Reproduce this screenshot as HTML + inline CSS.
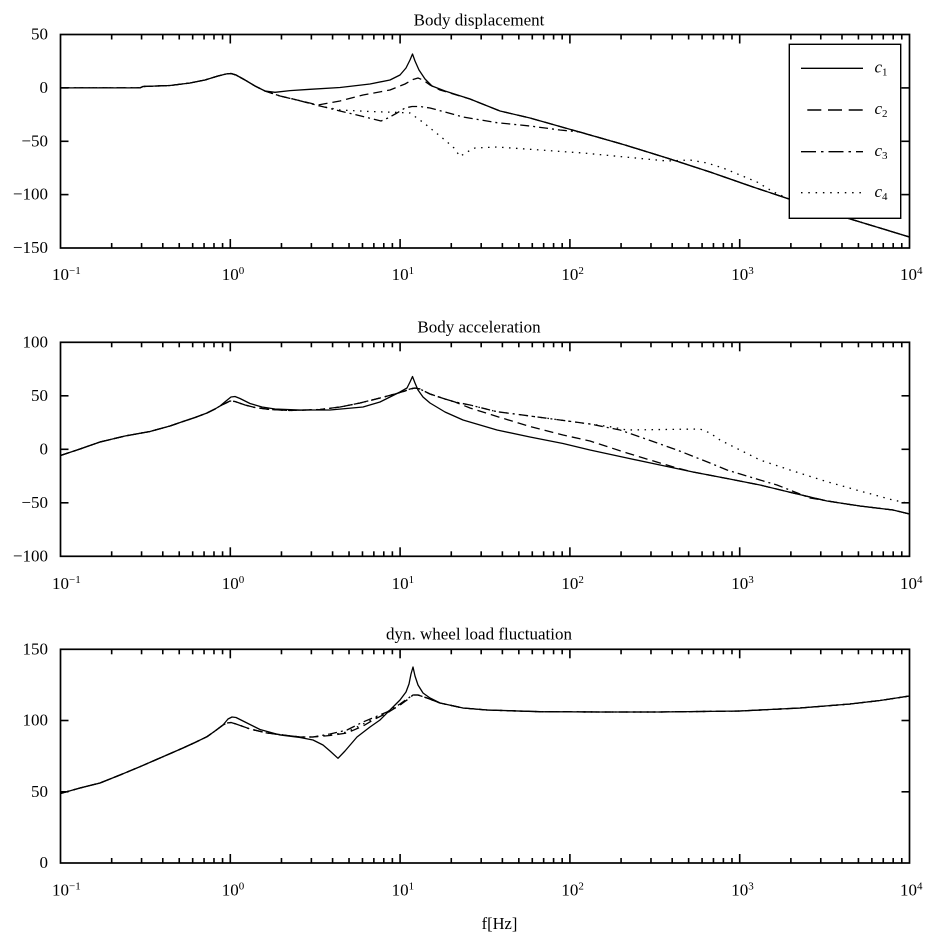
<!DOCTYPE html>
<html>
<head>
<meta charset="utf-8">
<style>
html,body{margin:0;padding:0;background:#fff;}
svg{display:block;}
text{font-family:"Liberation Serif","Times New Roman",serif;fill:#000;}
</style>
</head>
<body>
<svg width="931" height="932" viewBox="0 0 931 932" xmlns="http://www.w3.org/2000/svg" font-family="Liberation Serif, Times New Roman, serif">

<!-- ================= PLOT 1 ================= -->
<text x="479" y="25.5" font-size="17" text-anchor="middle">Body displacement</text>
<g fill="none" stroke="#000" stroke-width="1.3" stroke-linejoin="round">
  <polyline points="60.5,87.9 140,87.9 143,86.5 170,85.5 190,83 205,80 218,76 226,74 231,73.5 236,75 245,80 255,86 265,91 275,92.3 290,90.6 310,89.3 340,87.5 370,84 390,80 400,75 406,68 410,60 412.5,54 415,61 419,70 425,79 432,86 445,91 470,99 500,111 530,118 583,133 625,145 667,158 710,172 753,187 789,199 847,218 909.5,237"/>
  <polyline stroke-dasharray="9 5" points="60.5,87.9 140,87.9 143,86.5 170,85.5 190,83 205,80 218,76 226,74 231,73.5 236,75 245,80 255,86 265,91 280,96 297,100 318,105 340,101 363,95 390,90 405,84 413,79.5 418,78 423,80 430,85 440,90 450,93 470,99 500,111 530,118 583,133 625,145 667,158 710,172 753,187 789,199 847,218 909.5,237"/>
  <polyline stroke-dasharray="9 4 2 4" points="60.5,87.9 140,87.9 143,86.5 170,85.5 190,83 205,80 218,76 226,74 231,73.5 236,75 245,80 255,86 265,91 280,96 297,100 320,106 343,111.7 363,116.5 375,119.5 381,121 388,118 397,113 405,108 412,106.5 420,106.5 430,108 445,112 463,117 497,122.7 530,126 560,130 580,132 625,145 667,158 710,172 753,187 789,199 847,218 909.5,237"/>
  <polyline stroke-dasharray="1.5 5.5" points="60.5,87.9 140,87.9 143,86.5 170,85.5 190,83 205,80 218,76 226,74 231,73.5 236,75 245,80 255,86 265,91 280,96 297,100 320,106 340,110 370,111.5 400,112.5 410,113 417,118 424,123 430,128 440,136 448,142.7 454,148 460,156.5 467,152 475,148 497,147 540,150 583,153 625,157 667,161 690,160 707,163 723,168 740,175 757,182 773,191.7 789,199 847,218 909.5,237"/>
</g>
<rect x="60.5" y="34.5" width="849" height="213.5" fill="none" stroke="#000" stroke-width="1.7"/>
<g fill="#000" transform="translate(0,248)">
<rect x="110.87" y="-5" width="1.6" height="5"/><rect x="140.77" y="-5" width="1.6" height="5"/><rect x="161.98" y="-5" width="1.6" height="5"/><rect x="178.43" y="-5" width="1.6" height="5"/><rect x="191.88" y="-5" width="1.6" height="5"/><rect x="203.25" y="-5" width="1.6" height="5"/><rect x="213.19" y="-5" width="1.6" height="5"/><rect x="221.78" y="-5" width="1.6" height="5"/>
<rect x="280.67" y="-5" width="1.6" height="5"/><rect x="310.57" y="-5" width="1.6" height="5"/><rect x="331.78" y="-5" width="1.6" height="5"/><rect x="348.23" y="-5" width="1.6" height="5"/><rect x="361.68" y="-5" width="1.6" height="5"/><rect x="373.05" y="-5" width="1.6" height="5"/><rect x="382.99" y="-5" width="1.6" height="5"/><rect x="391.58" y="-5" width="1.6" height="5"/>
<rect x="450.47" y="-5" width="1.6" height="5"/><rect x="480.37" y="-5" width="1.6" height="5"/><rect x="501.58" y="-5" width="1.6" height="5"/><rect x="518.03" y="-5" width="1.6" height="5"/><rect x="531.48" y="-5" width="1.6" height="5"/><rect x="542.85" y="-5" width="1.6" height="5"/><rect x="552.79" y="-5" width="1.6" height="5"/><rect x="561.38" y="-5" width="1.6" height="5"/>
<rect x="620.27" y="-5" width="1.6" height="5"/><rect x="650.17" y="-5" width="1.6" height="5"/><rect x="671.38" y="-5" width="1.6" height="5"/><rect x="687.83" y="-5" width="1.6" height="5"/><rect x="701.28" y="-5" width="1.6" height="5"/><rect x="712.65" y="-5" width="1.6" height="5"/><rect x="722.59" y="-5" width="1.6" height="5"/><rect x="731.18" y="-5" width="1.6" height="5"/>
<rect x="790.07" y="-5" width="1.6" height="5"/><rect x="819.97" y="-5" width="1.6" height="5"/><rect x="841.18" y="-5" width="1.6" height="5"/><rect x="857.63" y="-5" width="1.6" height="5"/><rect x="871.08" y="-5" width="1.6" height="5"/><rect x="882.45" y="-5" width="1.6" height="5"/><rect x="892.39" y="-5" width="1.6" height="5"/><rect x="900.98" y="-5" width="1.6" height="5"/>
<rect x="229.5" y="-9" width="1.6" height="9"/><rect x="399.3" y="-9" width="1.6" height="9"/><rect x="569.1" y="-9" width="1.6" height="9"/><rect x="738.9" y="-9" width="1.6" height="9"/>
</g>
<g fill="#000" transform="translate(0,34.5)">
<rect x="110.87" y="0" width="1.6" height="5"/><rect x="140.77" y="0" width="1.6" height="5"/><rect x="161.98" y="0" width="1.6" height="5"/><rect x="178.43" y="0" width="1.6" height="5"/><rect x="191.88" y="0" width="1.6" height="5"/><rect x="203.25" y="0" width="1.6" height="5"/><rect x="213.19" y="0" width="1.6" height="5"/><rect x="221.78" y="0" width="1.6" height="5"/>
<rect x="280.67" y="0" width="1.6" height="5"/><rect x="310.57" y="0" width="1.6" height="5"/><rect x="331.78" y="0" width="1.6" height="5"/><rect x="348.23" y="0" width="1.6" height="5"/><rect x="361.68" y="0" width="1.6" height="5"/><rect x="373.05" y="0" width="1.6" height="5"/><rect x="382.99" y="0" width="1.6" height="5"/><rect x="391.58" y="0" width="1.6" height="5"/>
<rect x="450.47" y="0" width="1.6" height="5"/><rect x="480.37" y="0" width="1.6" height="5"/><rect x="501.58" y="0" width="1.6" height="5"/><rect x="518.03" y="0" width="1.6" height="5"/><rect x="531.48" y="0" width="1.6" height="5"/><rect x="542.85" y="0" width="1.6" height="5"/><rect x="552.79" y="0" width="1.6" height="5"/><rect x="561.38" y="0" width="1.6" height="5"/>
<rect x="620.27" y="0" width="1.6" height="5"/><rect x="650.17" y="0" width="1.6" height="5"/><rect x="671.38" y="0" width="1.6" height="5"/><rect x="687.83" y="0" width="1.6" height="5"/><rect x="701.28" y="0" width="1.6" height="5"/><rect x="712.65" y="0" width="1.6" height="5"/><rect x="722.59" y="0" width="1.6" height="5"/><rect x="731.18" y="0" width="1.6" height="5"/>
<rect x="790.07" y="0" width="1.6" height="5"/><rect x="819.97" y="0" width="1.6" height="5"/><rect x="841.18" y="0" width="1.6" height="5"/><rect x="857.63" y="0" width="1.6" height="5"/><rect x="871.08" y="0" width="1.6" height="5"/><rect x="882.45" y="0" width="1.6" height="5"/><rect x="892.39" y="0" width="1.6" height="5"/><rect x="900.98" y="0" width="1.6" height="5"/>
<rect x="229.5" y="0" width="1.6" height="9"/><rect x="399.3" y="0" width="1.6" height="9"/><rect x="569.1" y="0" width="1.6" height="9"/><rect x="738.9" y="0" width="1.6" height="9"/>
</g>
<g fill="#000">
<rect x="60.5" y="87.1" width="8" height="1.6"/><rect x="60.5" y="140.5" width="8" height="1.6"/><rect x="60.5" y="193.8" width="8" height="1.6"/>
<rect x="901.5" y="87.1" width="8" height="1.6"/><rect x="901.5" y="140.5" width="8" height="1.6"/><rect x="901.5" y="193.8" width="8" height="1.6"/>
</g>
<g font-size="17" text-anchor="end">
  <text x="48" y="39.5">50</text>
  <text x="48" y="92.9">0</text>
  <text x="48" y="146.3">−50</text>
  <text x="48" y="199.6">−100</text>
  <text x="48" y="253">−150</text>
</g>
<g font-size="17">
  <text x="52" y="280">10<tspan dy="-6" font-size="11">−1</tspan></text>
  <text x="221.8" y="280">10<tspan dy="-6" font-size="11">0</tspan></text>
  <text x="391.6" y="280">10<tspan dy="-6" font-size="11">1</tspan></text>
  <text x="561.4" y="280">10<tspan dy="-6" font-size="11">2</tspan></text>
  <text x="731.2" y="280">10<tspan dy="-6" font-size="11">3</tspan></text>
  <text x="900" y="280">10<tspan dy="-6" font-size="11">4</tspan></text>
</g>
<!-- legend -->
<rect x="789.3" y="44.3" width="111.4" height="174" fill="#fff" stroke="#000" stroke-width="1.4"/>
<g stroke="#000" stroke-width="1.4" fill="none">
  <line x1="801" y1="68.3" x2="863" y2="68.3"/>
  <line x1="807.3" y1="110" x2="863" y2="110" stroke-dasharray="14 6.7"/>
  <line x1="801" y1="151.7" x2="863" y2="151.7" stroke-dasharray="15 5 2.5 5"/>
  <line x1="801" y1="192.7" x2="863" y2="192.7" stroke-dasharray="1.5 5.8"/>
</g>
<g font-size="17" font-style="italic">
  <text x="874.5" y="72.5">c<tspan font-style="normal" font-size="11" dy="3">1</tspan></text>
  <text x="874.5" y="114.2">c<tspan font-style="normal" font-size="11" dy="3">2</tspan></text>
  <text x="874.5" y="155.9">c<tspan font-style="normal" font-size="11" dy="3">3</tspan></text>
  <text x="874.5" y="196.9">c<tspan font-style="normal" font-size="11" dy="3">4</tspan></text>
</g>

<!-- ================= PLOT 2 ================= -->
<text x="479" y="332.5" font-size="17" text-anchor="middle">Body acceleration</text>
<g fill="none" stroke="#000" stroke-width="1.3" stroke-linejoin="round">
  <polyline points="60.5,455.5 80,449 100,442 125,436 150,431.5 170,426 183,421.5 195,417.5 207,413 215,409 220,406 226,401 231,397 235,396.5 240,398.5 250,403.5 262,407 275,409 300,410 330,410 363,407 380,402 390,397 400,392 407,388 410,382 412.5,376.5 415,383 418,390 423,397 430,403 445,412 463,420 497,430 530,437 563,443.5 590,450 627,458 660,465 693,472 727,478.5 760,485 793,493 827,501 860,506 893,510 909.5,514"/>
  <polyline stroke-dasharray="9 5" points="60.5,455.5 80,449 100,442 125,436 150,431.5 170,426 183,421.5 195,417.5 207,413 215,409 220,406 226,403 230,401 235,401.5 245,405 255,407.5 270,409.5 290,410.5 320,409.5 340,407 360,403 380,398 395,394 405,391 410,389 415,388 420,389 430,394 445,399 455,402 470,408 497,416.5 530,426.5 563,435 590,441 627,453 660,463 677,468 693,472 727,478.5 760,485 793,493 827,501 860,506 893,510 909.5,514"/>
  <polyline stroke-dasharray="9 4 2 4" points="60.5,455.5 80,449 100,442 125,436 150,431.5 170,426 183,421.5 195,417.5 207,413 215,409 220,406 226,403 230,401 235,401.5 245,405 255,407.5 270,409.5 290,410.5 320,409.5 340,407 360,403 380,398 395,394 405,391 410,389 415,388 420,389 430,394 445,399 455,402 470,405 497,411.7 530,416 560,420 590,424 620,430 643,438 677,450 710,463 727,470 760,480 777,485 810,498 843,503.5 860,506 893,510 909.5,514"/>
  <polyline stroke-dasharray="1.5 5.5" points="60.5,455.5 80,449 100,442 125,436 150,431.5 170,426 183,421.5 195,417.5 207,413 215,409 220,406 226,403 230,401 235,401.5 245,405 255,407.5 270,409.5 290,410.5 320,409.5 340,407 360,403 380,398 395,394 405,391 410,389 415,388 420,389 430,394 445,399 455,402 470,405 497,411.7 530,416 560,420 610,426.7 627,430 700,429 710,433 720,440 740,450 760,460 793,471 827,481.7 860,491 893,500 909.5,503.5"/>
</g>
<rect x="60.5" y="342.3" width="849" height="214" fill="none" stroke="#000" stroke-width="1.7"/>
<g fill="#000" transform="translate(0,556.3)">
<rect x="110.87" y="-5" width="1.6" height="5"/><rect x="140.77" y="-5" width="1.6" height="5"/><rect x="161.98" y="-5" width="1.6" height="5"/><rect x="178.43" y="-5" width="1.6" height="5"/><rect x="191.88" y="-5" width="1.6" height="5"/><rect x="203.25" y="-5" width="1.6" height="5"/><rect x="213.19" y="-5" width="1.6" height="5"/><rect x="221.78" y="-5" width="1.6" height="5"/>
<rect x="280.67" y="-5" width="1.6" height="5"/><rect x="310.57" y="-5" width="1.6" height="5"/><rect x="331.78" y="-5" width="1.6" height="5"/><rect x="348.23" y="-5" width="1.6" height="5"/><rect x="361.68" y="-5" width="1.6" height="5"/><rect x="373.05" y="-5" width="1.6" height="5"/><rect x="382.99" y="-5" width="1.6" height="5"/><rect x="391.58" y="-5" width="1.6" height="5"/>
<rect x="450.47" y="-5" width="1.6" height="5"/><rect x="480.37" y="-5" width="1.6" height="5"/><rect x="501.58" y="-5" width="1.6" height="5"/><rect x="518.03" y="-5" width="1.6" height="5"/><rect x="531.48" y="-5" width="1.6" height="5"/><rect x="542.85" y="-5" width="1.6" height="5"/><rect x="552.79" y="-5" width="1.6" height="5"/><rect x="561.38" y="-5" width="1.6" height="5"/>
<rect x="620.27" y="-5" width="1.6" height="5"/><rect x="650.17" y="-5" width="1.6" height="5"/><rect x="671.38" y="-5" width="1.6" height="5"/><rect x="687.83" y="-5" width="1.6" height="5"/><rect x="701.28" y="-5" width="1.6" height="5"/><rect x="712.65" y="-5" width="1.6" height="5"/><rect x="722.59" y="-5" width="1.6" height="5"/><rect x="731.18" y="-5" width="1.6" height="5"/>
<rect x="790.07" y="-5" width="1.6" height="5"/><rect x="819.97" y="-5" width="1.6" height="5"/><rect x="841.18" y="-5" width="1.6" height="5"/><rect x="857.63" y="-5" width="1.6" height="5"/><rect x="871.08" y="-5" width="1.6" height="5"/><rect x="882.45" y="-5" width="1.6" height="5"/><rect x="892.39" y="-5" width="1.6" height="5"/><rect x="900.98" y="-5" width="1.6" height="5"/>
<rect x="229.5" y="-9" width="1.6" height="9"/><rect x="399.3" y="-9" width="1.6" height="9"/><rect x="569.1" y="-9" width="1.6" height="9"/><rect x="738.9" y="-9" width="1.6" height="9"/>
</g>
<g fill="#000" transform="translate(0,342.3)">
<rect x="110.87" y="0" width="1.6" height="5"/><rect x="140.77" y="0" width="1.6" height="5"/><rect x="161.98" y="0" width="1.6" height="5"/><rect x="178.43" y="0" width="1.6" height="5"/><rect x="191.88" y="0" width="1.6" height="5"/><rect x="203.25" y="0" width="1.6" height="5"/><rect x="213.19" y="0" width="1.6" height="5"/><rect x="221.78" y="0" width="1.6" height="5"/>
<rect x="280.67" y="0" width="1.6" height="5"/><rect x="310.57" y="0" width="1.6" height="5"/><rect x="331.78" y="0" width="1.6" height="5"/><rect x="348.23" y="0" width="1.6" height="5"/><rect x="361.68" y="0" width="1.6" height="5"/><rect x="373.05" y="0" width="1.6" height="5"/><rect x="382.99" y="0" width="1.6" height="5"/><rect x="391.58" y="0" width="1.6" height="5"/>
<rect x="450.47" y="0" width="1.6" height="5"/><rect x="480.37" y="0" width="1.6" height="5"/><rect x="501.58" y="0" width="1.6" height="5"/><rect x="518.03" y="0" width="1.6" height="5"/><rect x="531.48" y="0" width="1.6" height="5"/><rect x="542.85" y="0" width="1.6" height="5"/><rect x="552.79" y="0" width="1.6" height="5"/><rect x="561.38" y="0" width="1.6" height="5"/>
<rect x="620.27" y="0" width="1.6" height="5"/><rect x="650.17" y="0" width="1.6" height="5"/><rect x="671.38" y="0" width="1.6" height="5"/><rect x="687.83" y="0" width="1.6" height="5"/><rect x="701.28" y="0" width="1.6" height="5"/><rect x="712.65" y="0" width="1.6" height="5"/><rect x="722.59" y="0" width="1.6" height="5"/><rect x="731.18" y="0" width="1.6" height="5"/>
<rect x="790.07" y="0" width="1.6" height="5"/><rect x="819.97" y="0" width="1.6" height="5"/><rect x="841.18" y="0" width="1.6" height="5"/><rect x="857.63" y="0" width="1.6" height="5"/><rect x="871.08" y="0" width="1.6" height="5"/><rect x="882.45" y="0" width="1.6" height="5"/><rect x="892.39" y="0" width="1.6" height="5"/><rect x="900.98" y="0" width="1.6" height="5"/>
<rect x="229.5" y="0" width="1.6" height="9"/><rect x="399.3" y="0" width="1.6" height="9"/><rect x="569.1" y="0" width="1.6" height="9"/><rect x="738.9" y="0" width="1.6" height="9"/>
</g>
<g fill="#000">
<rect x="60.5" y="395" width="8" height="1.6"/><rect x="60.5" y="448.5" width="8" height="1.6"/><rect x="60.5" y="502" width="8" height="1.6"/>
<rect x="901.5" y="395" width="8" height="1.6"/><rect x="901.5" y="448.5" width="8" height="1.6"/><rect x="901.5" y="502" width="8" height="1.6"/>
</g>
<g font-size="17" text-anchor="end">
  <text x="48" y="347.3">100</text>
  <text x="48" y="400.8">50</text>
  <text x="48" y="454.3">0</text>
  <text x="48" y="507.8">−50</text>
  <text x="48" y="561.3">−100</text>
</g>
<g font-size="17">
  <text x="52" y="589">10<tspan dy="-6" font-size="11">−1</tspan></text>
  <text x="221.8" y="589">10<tspan dy="-6" font-size="11">0</tspan></text>
  <text x="391.6" y="589">10<tspan dy="-6" font-size="11">1</tspan></text>
  <text x="561.4" y="589">10<tspan dy="-6" font-size="11">2</tspan></text>
  <text x="731.2" y="589">10<tspan dy="-6" font-size="11">3</tspan></text>
  <text x="900" y="589">10<tspan dy="-6" font-size="11">4</tspan></text>
</g>

<!-- ================= PLOT 3 ================= -->
<text x="479" y="639.5" font-size="17" text-anchor="middle">dyn. wheel load fluctuation</text>
<g fill="none" stroke="#000" stroke-width="1.3" stroke-linejoin="round">
  <polyline points="60.5,793.5 80,788 100,783 120,775 140,766.7 160,758 183,748 195,742.5 207,736.7 215,731 223,725 228,719 232,717 236,717.5 245,722 260,729.5 280,735 300,737.5 313,740 323,745 330,751 338,758.3 345,751 357,737 370,727 380,720 392,708 400,700 406,692 409,684 411,674 413,667 415,676 418,685 423,693 430,698 440,703 463,708 487,710 540,711.7 600,712 660,712 740,711 800,708 850,704 880,700.5 909.5,696"/>
  <polyline stroke-dasharray="9 5" points="60.5,793.5 80,788 100,783 120,775 140,766.7 160,758 183,748 195,742.5 207,736.7 215,731 223,725 227,723 231,722.5 236,724 250,729 267,733 300,737 313,737 330,735.5 347,733 363,726 375,719 387,713 400,705 407,700 413,695 418,695 427,698 440,703 463,708 487,710 540,711.7 600,712 660,712 740,711 800,708 850,704 880,700.5 909.5,696"/>
  <polyline stroke-dasharray="9 4 2 4" points="60.5,793.5 80,788 100,783 120,775 140,766.7 160,758 183,748 195,742.5 207,736.7 215,731 223,725 227,723 231,722.5 236,724 250,729 267,733 300,737 313,737 330,734 347,730 363,722 375,717 387,712 400,704 407,699 413,695 418,695 427,698 440,703 463,708 487,710 540,711.7 600,712 660,712 740,711 800,708 850,704 880,700.5 909.5,696"/>
  <polyline stroke-dasharray="1.5 5.5" points="60.5,793.5 80,788 100,783 120,775 140,766.7 160,758 183,748 195,742.5 207,736.7 215,731 223,725 227,723 231,722.5 236,724 250,729 267,733 300,737 313,737 330,735 347,732 363,724 375,718 387,713 400,705 407,700 413,695 418,695 427,698 440,703 463,708 487,710 540,711.7 600,712 660,712 740,711 800,708 850,704 880,700.5 909.5,696"/>
</g>
<rect x="60.5" y="649.3" width="849" height="213.7" fill="none" stroke="#000" stroke-width="1.7"/>
<g fill="#000" transform="translate(0,863)">
<rect x="110.87" y="-5" width="1.6" height="5"/><rect x="140.77" y="-5" width="1.6" height="5"/><rect x="161.98" y="-5" width="1.6" height="5"/><rect x="178.43" y="-5" width="1.6" height="5"/><rect x="191.88" y="-5" width="1.6" height="5"/><rect x="203.25" y="-5" width="1.6" height="5"/><rect x="213.19" y="-5" width="1.6" height="5"/><rect x="221.78" y="-5" width="1.6" height="5"/>
<rect x="280.67" y="-5" width="1.6" height="5"/><rect x="310.57" y="-5" width="1.6" height="5"/><rect x="331.78" y="-5" width="1.6" height="5"/><rect x="348.23" y="-5" width="1.6" height="5"/><rect x="361.68" y="-5" width="1.6" height="5"/><rect x="373.05" y="-5" width="1.6" height="5"/><rect x="382.99" y="-5" width="1.6" height="5"/><rect x="391.58" y="-5" width="1.6" height="5"/>
<rect x="450.47" y="-5" width="1.6" height="5"/><rect x="480.37" y="-5" width="1.6" height="5"/><rect x="501.58" y="-5" width="1.6" height="5"/><rect x="518.03" y="-5" width="1.6" height="5"/><rect x="531.48" y="-5" width="1.6" height="5"/><rect x="542.85" y="-5" width="1.6" height="5"/><rect x="552.79" y="-5" width="1.6" height="5"/><rect x="561.38" y="-5" width="1.6" height="5"/>
<rect x="620.27" y="-5" width="1.6" height="5"/><rect x="650.17" y="-5" width="1.6" height="5"/><rect x="671.38" y="-5" width="1.6" height="5"/><rect x="687.83" y="-5" width="1.6" height="5"/><rect x="701.28" y="-5" width="1.6" height="5"/><rect x="712.65" y="-5" width="1.6" height="5"/><rect x="722.59" y="-5" width="1.6" height="5"/><rect x="731.18" y="-5" width="1.6" height="5"/>
<rect x="790.07" y="-5" width="1.6" height="5"/><rect x="819.97" y="-5" width="1.6" height="5"/><rect x="841.18" y="-5" width="1.6" height="5"/><rect x="857.63" y="-5" width="1.6" height="5"/><rect x="871.08" y="-5" width="1.6" height="5"/><rect x="882.45" y="-5" width="1.6" height="5"/><rect x="892.39" y="-5" width="1.6" height="5"/><rect x="900.98" y="-5" width="1.6" height="5"/>
<rect x="229.5" y="-9" width="1.6" height="9"/><rect x="399.3" y="-9" width="1.6" height="9"/><rect x="569.1" y="-9" width="1.6" height="9"/><rect x="738.9" y="-9" width="1.6" height="9"/>
</g>
<g fill="#000" transform="translate(0,649.3)">
<rect x="110.87" y="0" width="1.6" height="5"/><rect x="140.77" y="0" width="1.6" height="5"/><rect x="161.98" y="0" width="1.6" height="5"/><rect x="178.43" y="0" width="1.6" height="5"/><rect x="191.88" y="0" width="1.6" height="5"/><rect x="203.25" y="0" width="1.6" height="5"/><rect x="213.19" y="0" width="1.6" height="5"/><rect x="221.78" y="0" width="1.6" height="5"/>
<rect x="280.67" y="0" width="1.6" height="5"/><rect x="310.57" y="0" width="1.6" height="5"/><rect x="331.78" y="0" width="1.6" height="5"/><rect x="348.23" y="0" width="1.6" height="5"/><rect x="361.68" y="0" width="1.6" height="5"/><rect x="373.05" y="0" width="1.6" height="5"/><rect x="382.99" y="0" width="1.6" height="5"/><rect x="391.58" y="0" width="1.6" height="5"/>
<rect x="450.47" y="0" width="1.6" height="5"/><rect x="480.37" y="0" width="1.6" height="5"/><rect x="501.58" y="0" width="1.6" height="5"/><rect x="518.03" y="0" width="1.6" height="5"/><rect x="531.48" y="0" width="1.6" height="5"/><rect x="542.85" y="0" width="1.6" height="5"/><rect x="552.79" y="0" width="1.6" height="5"/><rect x="561.38" y="0" width="1.6" height="5"/>
<rect x="620.27" y="0" width="1.6" height="5"/><rect x="650.17" y="0" width="1.6" height="5"/><rect x="671.38" y="0" width="1.6" height="5"/><rect x="687.83" y="0" width="1.6" height="5"/><rect x="701.28" y="0" width="1.6" height="5"/><rect x="712.65" y="0" width="1.6" height="5"/><rect x="722.59" y="0" width="1.6" height="5"/><rect x="731.18" y="0" width="1.6" height="5"/>
<rect x="790.07" y="0" width="1.6" height="5"/><rect x="819.97" y="0" width="1.6" height="5"/><rect x="841.18" y="0" width="1.6" height="5"/><rect x="857.63" y="0" width="1.6" height="5"/><rect x="871.08" y="0" width="1.6" height="5"/><rect x="882.45" y="0" width="1.6" height="5"/><rect x="892.39" y="0" width="1.6" height="5"/><rect x="900.98" y="0" width="1.6" height="5"/>
<rect x="229.5" y="0" width="1.6" height="9"/><rect x="399.3" y="0" width="1.6" height="9"/><rect x="569.1" y="0" width="1.6" height="9"/><rect x="738.9" y="0" width="1.6" height="9"/>
</g>
<g fill="#000">
<rect x="60.5" y="719.7" width="8" height="1.6"/><rect x="60.5" y="791" width="8" height="1.6"/>
<rect x="901.5" y="719.7" width="8" height="1.6"/><rect x="901.5" y="791" width="8" height="1.6"/>
</g>
<g font-size="17" text-anchor="end">
  <text x="48" y="654.3">150</text>
  <text x="48" y="725.5">100</text>
  <text x="48" y="796.8">50</text>
  <text x="48" y="868">0</text>
</g>
<g font-size="17">
  <text x="52" y="895.5">10<tspan dy="-6" font-size="11">−1</tspan></text>
  <text x="221.8" y="895.5">10<tspan dy="-6" font-size="11">0</tspan></text>
  <text x="391.6" y="895.5">10<tspan dy="-6" font-size="11">1</tspan></text>
  <text x="561.4" y="895.5">10<tspan dy="-6" font-size="11">2</tspan></text>
  <text x="731.2" y="895.5">10<tspan dy="-6" font-size="11">3</tspan></text>
  <text x="900" y="895.5">10<tspan dy="-6" font-size="11">4</tspan></text>
</g>
<text x="499.5" y="929" font-size="16.5" text-anchor="middle">f[Hz]</text>
</svg>
</body>
</html>
